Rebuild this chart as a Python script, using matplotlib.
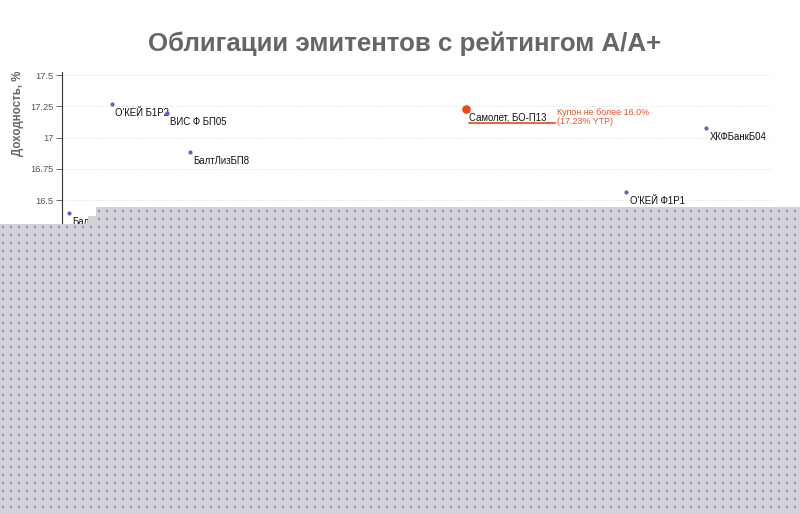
import numpy as np
import matplotlib
matplotlib.use('Agg')
import matplotlib.pyplot as plt
from matplotlib.patches import Polygon
from matplotlib.ticker import FuncFormatter

plt.rcParams['font.family'] = ['Liberation Sans', 'DejaVu Sans']

# bonds (x axis is hidden under the overlay in the reference)
names = ['Бал', "О'КЕЙ Б1Р2", 'ВИС Ф БП05', 'БалтЛизБП8', 'Самолет, БО-П13', 'О\'КЕЙ Ф1Р1', 'ХКФБанкБ04']
xvals = [0.02, 0.14, 0.295, 0.36, 1.138, 1.59, 1.815]
yields = [16.40, 17.27, 17.20, 16.885, 17.23, 16.565, 17.075]
highlight = 'Самолет, БО-П13'
note = 'Купон не более 16.0%\n(17.23% YTP)'
yticks = [15.0, 15.25, 15.5, 15.75, 16.0, 16.25, 16.5, 16.75, 17.0, 17.25, 17.5]

W, H = 800, 514
fig = plt.figure(figsize=(W / 100, H / 100), dpi=100)
ax = fig.add_axes([62 / W, 1 - 388 / H, 710 / W, 315.5 / H])
ax.set_xlim(0, 2.0)
ax.set_ylim(15.0, 17.52)

for s in ['top', 'right', 'bottom']:
    ax.spines[s].set_visible(False)
ax.spines['left'].set_color('#333333')
ax.spines['left'].set_linewidth(0.8)
ax.set_xticks([])
ax.set_yticks(yticks)
ax.yaxis.set_major_formatter(FuncFormatter(lambda v, p: '%g' % v))
ax.tick_params(axis='y', labelsize=6.7, labelcolor='#555555', color='#555555',
               length=4, width=0.6, pad=2)
ax.grid(axis='y', color='#e2e2e2', linestyle=(0, (2, 2)), linewidth=0.6)
ax.set_axisbelow(True)

ax.set_ylabel('Доходность, %', fontsize=8.3, fontweight='bold', color='#666666')
ax.yaxis.set_label_coords(-0.054, 0.87)

for n, xv, yv in zip(names, xvals, yields):
    if n == highlight:
        ax.scatter([xv], [yv], s=38, color='#f04514', zorder=3, linewidths=0)
        ax.annotate(n, (xv, yv), xytext=(2.2, -6.5), textcoords='offset points',
                    fontsize=6.9, color='#111111', ha='left', va='center')
        ax.annotate(note, (xv, yv), xytext=(65.5, -5.8), textcoords='offset points',
                    fontsize=6.4, color='#e8502a', ha='left', va='center',
                    linespacing=1.1)
        # underline under the label
        p0 = ax.transData.transform((xv, yv))
        inv = ax.transData.inverted()
        a = inv.transform((p0[0] + 3, p0[1] - 14.5))
        b = inv.transform((p0[0] + 89, p0[1] - 14.5))
        ax.plot([a[0], b[0]], [a[1], b[1]], color='#e03a10', lw=1.1, zorder=3)
    else:
        ax.scatter([xv], [yv], s=9, color='#6a5acd', zorder=3, linewidths=0)
        ax.annotate(n, (xv, yv), xytext=(2.2, -6.5), textcoords='offset points',
                    fontsize=6.9, color='#111111', ha='left', va='center')

fig.text(405 / W, 1 - 44 / H, 'Облигации эмитентов с рейтингом А/А+',
         ha='center', va='center', fontsize=18.6, fontweight='bold', color='#666666')

# grey overlay with dotted pattern covering the lower part
ov = fig.add_axes([0, 0, 1, 1], zorder=10)
ov.set_xlim(0, W)
ov.set_ylim(H, 0)
ov.axis('off')
ov.patch.set_alpha(0)
shape = [(96, 207), (W, 207), (W, H), (0, H), (0, 224), (88, 224), (88, 216), (96, 216)]
ov.add_patch(Polygon(shape, closed=True, facecolor='#d3d2da', edgecolor='none'))
gx, gy = np.meshgrid(np.arange(3, W, 8), np.arange(211, H, 8))
mask = ~(((gx < 96) & (gy < 224)))
ov.scatter(gx[mask], gy[mask], s=1.2, marker='s', color='#8e8d9c', linewidths=0)

fig.savefig('out.png', dpi=100)
